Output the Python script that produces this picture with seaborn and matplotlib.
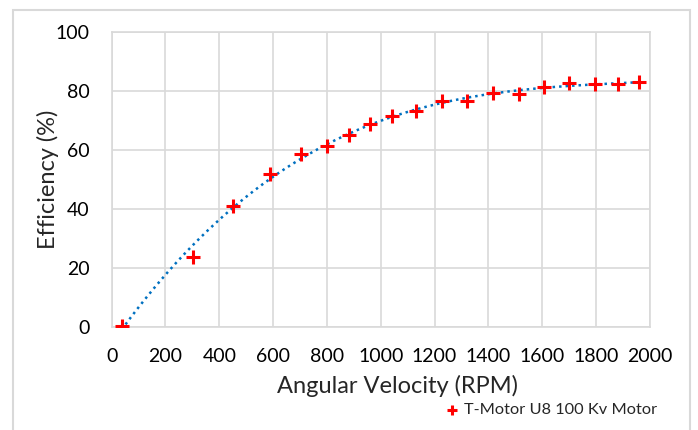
import numpy as np
import pandas as pd
import matplotlib
matplotlib.use("Agg")
import matplotlib.pyplot as plt
import seaborn as sns
from matplotlib.patches import Rectangle

rpm = [37, 301, 452, 588, 703, 801, 883, 960, 1042, 1130, 1228, 1320,
       1416, 1513, 1607, 1700, 1797, 1880, 1961]
efficiency = [0.5, 23.9, 41.1, 52.0, 58.5, 61.4, 65.2, 68.7, 71.5, 73.2,
              76.6, 76.7, 79.3, 78.8, 81.3, 82.8, 82.4, 82.2, 83.0]
series_name = "T-Motor U8 100 Kv Motor"
x_ticks = [0, 200, 400, 600, 800, 1000, 1200, 1400, 1600, 1800, 2000]
y_ticks = [0, 20, 40, 60, 80, 100]

df = pd.DataFrame({"rpm": rpm, "eff": efficiency})

sns.set_theme(style="whitegrid")
plt.rcParams['font.family'] = ['Lato', 'DejaVu Sans']

fig = plt.figure(figsize=(6.98, 4.30), dpi=100)
ax = fig.add_axes([0.160, 0.239, 0.771, 0.687])

# polynomial trendline (order 3)
coef = np.polyfit(df["rpm"], df["eff"], 3)
xs = np.linspace(min(rpm), max(rpm), 200)
ax.plot(xs, np.polyval(coef, xs), linestyle=(0, (1, 1.6)), color="#0070C0",
        linewidth=1.8, zorder=2)

sns.scatterplot(data=df, x="rpm", y="eff", marker="+", s=100, color="#FF0000",
                linewidth=2.2, ax=ax, zorder=3, label=series_name)

ax.set_xlim(0, 2000)
ax.set_ylim(0, 100)
ax.set_xticks(x_ticks)
ax.set_yticks(y_ticks)
ax.tick_params(axis="both", labelsize=14, colors="black", length=0)
ax.tick_params(axis="x", pad=15)
ax.tick_params(axis="y", pad=16)
ax.grid(True, color="#d9d9d9", linewidth=1.2)
for sp in ax.spines.values():
    sp.set_color("#d9d9d9")
    sp.set_linewidth(1.2)
ax.set_xlabel("Angular Velocity (RPM)", fontsize=17)
ax.set_ylabel("Efficiency (%)", fontsize=17)
ax.xaxis.set_label_coords(0.531, -0.162)
ax.yaxis.set_label_coords(-0.098, 0.5)

leg = ax.legend(loc="center left", bbox_to_anchor=(0.640, 0.047),
                bbox_transform=fig.transFigure, frameon=False, fontsize=11.8,
                handlelength=0.7, handletextpad=0.35, borderpad=0,
                borderaxespad=0)
leg.legend_handles[0].set_sizes([45])

fig.patches.append(Rectangle((12.5 / 698, -0.1), (690 - 12.5) / 698, 1.1 - 10 / 430,
                             transform=fig.transFigure, fill=False,
                             edgecolor="#d9d9d9", linewidth=1.5))

fig.savefig("out.png", dpi=100)
